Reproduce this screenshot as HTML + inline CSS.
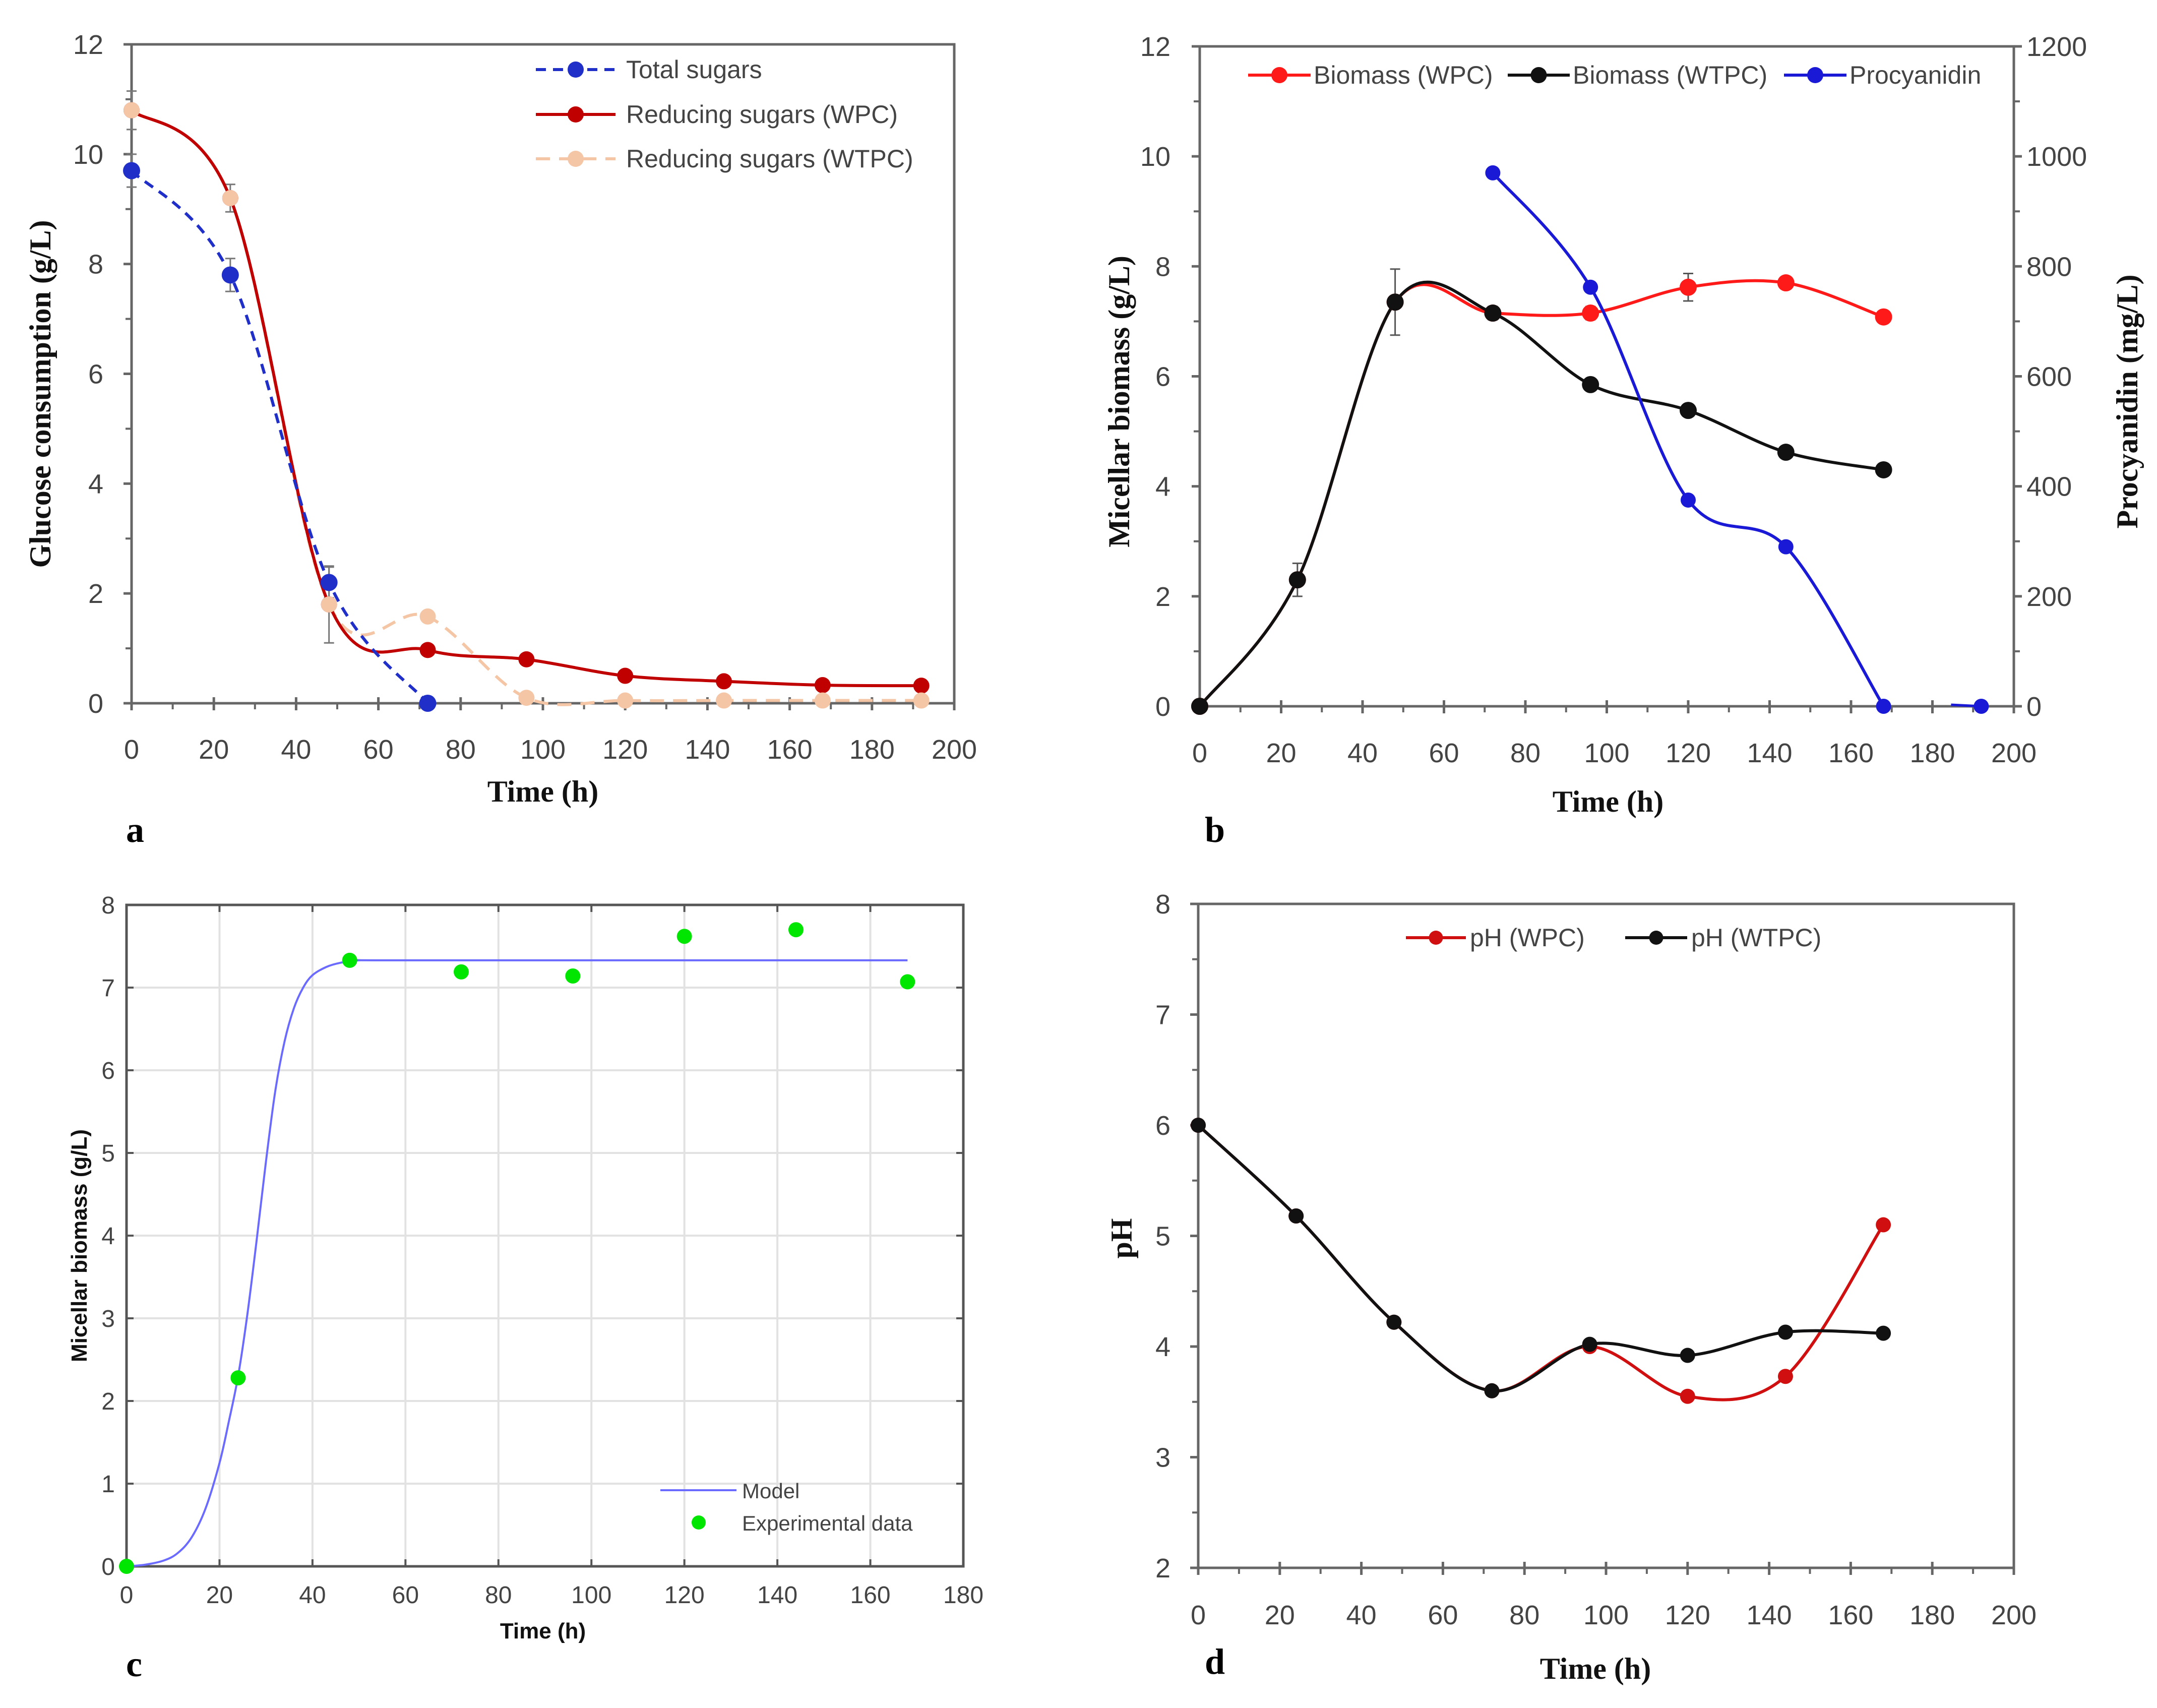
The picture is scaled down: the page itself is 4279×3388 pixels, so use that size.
<!DOCTYPE html>
<html><head><meta charset="utf-8">
<style>
html,body{margin:0;padding:0;background:#fff;}
svg{display:block;}
.tk{font-family:"Liberation Sans",sans-serif;font-size:54px;fill:#444;}
.tt{font-family:"Liberation Serif",serif;font-size:60px;font-weight:bold;fill:#111;}
.lg{font-family:"Liberation Sans",sans-serif;font-size:50px;fill:#444;}
.pl{font-family:"Liberation Serif",serif;font-size:72px;font-weight:bold;fill:#000;}
.ctk{font-family:"Liberation Sans",sans-serif;font-size:48px;fill:#444;}
.ctt{font-family:"Liberation Sans",sans-serif;font-size:44px;font-weight:bold;fill:#111;}
</style></head>
<body>
<svg id="fig" xmlns="http://www.w3.org/2000/svg" width="4279" height="3388" viewBox="0 0 4279 3388"></svg>
<script>
// ---------- Panel a data ----------
const aTotalX=[0,24,48,72];
const aTotalY=[9.7,7.8,2.2,0];
const aTotalErr=[0.3,0.3,0.28,0];
const aWpcX=[0,24,48,72,96,120,144,168,192];
const aWpcY=[10.8,9.2,1.8,0.97,0.8,0.5,0.4,0.33,0.32];
const aWtpcX=[0,24,48,72,96,120,144,168,192];
const aWtpcY=[10.8,9.2,1.8,1.58,0.1,0.05,0.05,0.05,0.05];
const aWtpcErr=[0.35,0.25,0.7,0,0,0,0,0,0];
const aXTicks=[0,20,40,60,80,100,120,140,160,180,200];
const aYTicks=[0,2,4,6,8,10,12];
// ---------- Panel b data ----------
const bX=[0,24,48,72,96,120,144,168];
const bWpc=[0,2.3,7.35,7.15,7.15,7.62,7.7,7.08];
const bWpcErr=[0,0.3,0.6,0.12,0.12,0.25,0.08,0];
const bWtpc=[0,2.3,7.35,7.15,5.85,5.38,4.62,4.3];
const bProX=[72,96,120,144,168];
const bPro=[970,762,375,290,0];
const bProLastX=[192];
const bProLast=[0];
const bXTicks=[0,20,40,60,80,100,120,140,160,180,200];
const bYTicks=[0,2,4,6,8,10,12];
const bY2Ticks=[0,200,400,600,800,1000,1200];
// ---------- Panel c data ----------
const cModelX=[0,4,8,11,14,17,20,22,24,26,28,30,32,34,36,38,40,43,46,50,60,168];
const cModelY=[0,0.02,0.07,0.16,0.35,0.7,1.25,1.75,2.3,3.05,3.95,4.9,5.75,6.35,6.75,7.0,7.15,7.25,7.3,7.33,7.33,7.33];
const cExpX=[0,24,48,72,96,120,144,168];
const cExpY=[0,2.28,7.33,7.19,7.14,7.62,7.7,7.07];
const cXTicks=[0,20,40,60,80,100,120,140,160,180];
const cYTicks=[0,1,2,3,4,5,6,7,8];
// ---------- Panel d data ----------
const dX=[0,24,48,72,96,120,144,168];
const dWpc=[6,5.18,4.22,3.6,4.0,3.55,3.73,5.1];
const dWtpc=[6,5.18,4.22,3.6,4.02,3.92,4.13,4.12];
const dXTicks=[0,20,40,60,80,100,120,140,160,180,200];
const dYTicks=[2,3,4,5,6,7,8];

const NS="http://www.w3.org/2000/svg";
const svg=document.getElementById('fig');
function el(tag,attrs,parent,text){
  const e=document.createElementNS(NS,tag);
  for(const k in attrs)e.setAttribute(k,attrs[k]);
  if(text!==undefined)e.textContent=text;
  (parent||svg).appendChild(e);return e;
}
function lin(d0,d1,r0,r1){return v=>r0+(v-d0)*(r1-r0)/(d1-d0);}
function smooth(pts){
  if(pts.length<2)return '';
  let d='M'+pts[0][0]+','+pts[0][1];
  for(let i=0;i<pts.length-1;i++){
    const p0=pts[Math.max(0,i-1)],p1=pts[i],p2=pts[i+1],p3=pts[Math.min(pts.length-1,i+2)];
    const c1x=p1[0]+(p2[0]-p0[0])/6,c1y=p1[1]+(p2[1]-p0[1])/6;
    const c2x=p2[0]-(p3[0]-p1[0])/6,c2y=p2[1]-(p3[1]-p1[1])/6;
    d+=' C'+c1x+','+c1y+' '+c2x+','+c2y+' '+p2[0]+','+p2[1];
  }
  return d;
}
function axesBox(g,x0,x1,y0,y1,xt,yt,sx,sy,opts){
  const col='#666';
  const box=el('rect',{x:x0,y:y1,width:x1-x0,height:y0-y1,fill:'none',stroke:col,'stroke-width':5},g);
  
  
  const xg=el('g',{},g);
  
  
  for(let i=0;i<xt.length;i++){
    const x=sx(xt[i]);
    el('line',{x1:x,x2:x,y1:y0-12,y2:y0+14,stroke:col,'stroke-width':5},xg);
    if(i<xt.length-1){const xm=sx((xt[i]+xt[i+1])/2);el('line',{x1:xm,x2:xm,y1:y0,y2:y0+12,stroke:col,'stroke-width':4},xg);}
    const t=el('text',{x:x,y:opts.xly,'text-anchor':'middle',class:'tk'},xg,xt[i]);
    
    
  }
  const yg=el('g',{},g);
  
  
  for(let i=0;i<yt.length;i++){
    const y=sy(yt[i]);
    el('line',{x1:x0-16,x2:x0,y1:y,y2:y,stroke:col,'stroke-width':5},yg);
    if(i<yt.length-1){const ym=sy((yt[i]+yt[i+1])/2);el('line',{x1:x0-12,x2:x0,y1:ym,y2:ym,stroke:col,'stroke-width':4},yg);}
    const t=el('text',{x:opts.ylx,y:y+19,'text-anchor':'end',class:'tk'},yg,yt[i]);
    
    
  }
}
function errBars(g,xs,ys,es,sx,sy,col){
  for(let i=0;i<xs.length;i++){if(!es[i])continue;
    const x=sx(xs[i]),ya=sy(ys[i]+es[i]),yb=sy(ys[i]-es[i]);
    el('path',{d:`M${x},${ya} L${x},${yb} M${x-10},${ya} L${x+10},${ya} M${x-10},${yb} L${x+10},${yb}`,stroke:col,'stroke-width':3,fill:'none'},g);
  }
}
function dots(g,xs,ys,sx,sy,r,col,name){
  for(let i=0;i<xs.length;i++){
    const c=el('circle',{cx:sx(xs[i]),cy:sy(ys[i]),r:r,fill:col},g);
    
    
  }
}
function pts(xs,ys,sx,sy){return xs.map((x,i)=>[sx(x),sy(ys[i])]);}

// ================= Panel a =================
(function(){
  const g=el('g',{});
  
  
  const x0=261,x1=1893,y0=1395,y1=88;
  const sx=lin(0,200,x0,x1),sy=lin(0,12,y0,y1);
  axesBox(g,x0,x1,y0,y1,aXTicks,aYTicks,sx,sy,{xly:1505,ylx:205});
  const yt=el('text',{x:0,y:0,class:'tt',transform:`translate(100,${(y0+y1)/2+40}) rotate(-90)`,'text-anchor':'middle'},g,'Glucose consumption  (g/L)');
  
  const xt=el('text',{x:1077,y:1590,class:'tt','text-anchor':'middle'},g,'Time (h)');
  
  errBars(g,aWtpcX,aWtpcY,aWtpcErr,sx,sy,'#777');
  errBars(g,aTotalX,aTotalY,aTotalErr,sx,sy,'#777');
  const lw=el('path',{d:smooth(pts(aWtpcX,aWtpcY,sx,sy)),fill:'none',stroke:'#f5c6a5','stroke-width':6,'stroke-dasharray':'28,18'},g);
  
  const lr=el('path',{d:smooth(pts(aWpcX,aWpcY,sx,sy)),fill:'none',stroke:'#c00000','stroke-width':6},g);
  
  const lt=el('path',{d:smooth(pts(aTotalX,aTotalY,sx,sy)),fill:'none',stroke:'#1f2fc8','stroke-width':6,'stroke-dasharray':'20,14'},g);
  
  dots(g,aWpcX,aWpcY,sx,sy,16,'#c00000','wpc-point');
  dots(g,aTotalX,aTotalY,sx,sy,17,'#1f2fc8','total-sugars-point');
  dots(g,aWtpcX,aWtpcY,sx,sy,16,'#f5c6a5','wtpc-point');
  const lg=el('g',{},g);
  
  const rows=[[138,'#1f2fc8','20,14','Total sugars'],[227,'#c00000','','Reducing sugars  (WPC)'],[315,'#f5c6a5','28,18','Reducing sugars  (WTPC)']];
  rows.forEach(r=>{
    el('line',{x1:1063,x2:1221,y1:r[0],y2:r[0],stroke:r[1],'stroke-width':6,'stroke-dasharray':r[2]||'none'},lg);
    el('circle',{cx:1142,cy:r[0],r:16,fill:r[1]},lg);
    const t=el('text',{x:1242,y:r[0]+17,class:'lg'},lg,r[3]);
    
  });
  const p=el('text',{x:250,y:1670,class:'pl'},g,'a');
  
})();

// ================= Panel b =================
(function(){
  const g=el('g',{});
  
  
  const x0=2380,x1=3995,y0=1401,y1=92;
  const sx=lin(0,200,x0,x1),sy=lin(0,12,y0,y1),sy2=lin(0,1200,y0,y1);
  axesBox(g,x0,x1,y0,y1,bXTicks,bYTicks,sx,sy,{xly:1512,ylx:2322});
  const rg=el('g',{},g);
  
  for(let i=0;i<bY2Ticks.length;i++){
    const y=sy2(bY2Ticks[i]);
    el('line',{x1:x1,x2:x1+16,y1:y,y2:y,stroke:'#666','stroke-width':5},rg);
    if(i<bY2Ticks.length-1){const ym=sy2((bY2Ticks[i]+bY2Ticks[i+1])/2);el('line',{x1:x1,x2:x1+12,y1:ym,y2:ym,stroke:'#666','stroke-width':4},rg);}
    const t=el('text',{x:x1+25,y:y+19,class:'tk'},rg,bY2Ticks[i]);
    
  }
  const yt=el('text',{x:0,y:0,class:'tt',transform:`translate(2240,${(y0+y1)/2+50}) rotate(-90)`,'text-anchor':'middle'},g,'Micellar biomass (g/L)');
  
  const yt2=el('text',{x:0,y:0,class:'tt',transform:`translate(4240,${(y0+y1)/2+50}) rotate(-90)`,'text-anchor':'middle'},g,'Procyanidin (mg/L)');
  
  const xt=el('text',{x:3190,y:1610,class:'tt','text-anchor':'middle'},g,'Time (h)');
  
  errBars(g,bX,bWpc,bWpcErr,sx,sy,'#555');
  const l1=el('path',{d:smooth(pts(bX,bWpc,sx,sy)),fill:'none',stroke:'#ff1a1a','stroke-width':6},g);
  
  const l2=el('path',{d:smooth(pts(bX,bWtpc,sx,sy)),fill:'none',stroke:'#111','stroke-width':6},g);
  
  const l3=el('path',{d:smooth(pts(bProX,bPro,sx,sy2)),fill:'none',stroke:'#1a1ad6','stroke-width':6},g);
  
  const lx=sx(bProLastX[0]),ly=sy2(bProLast[0]);
  el('line',{x1:lx-60,x2:lx,y1:ly-3,y2:ly,stroke:'#1a1ad6','stroke-width':5},g);
  dots(g,bX,bWpc,sx,sy,17,'#ff1a1a','biomass-wpc-point');
  dots(g,bX,bWtpc,sx,sy,17,'#111','biomass-wtpc-point');
  dots(g,bProX,bPro,sx,sy2,15,'#1a1ad6','procyanidin-point');
  dots(g,bProLastX,bProLast,sx,sy2,15,'#1a1ad6','procyanidin-point');
  const lg=el('g',{},g);
  
  [[2476,2600,'#ff1a1a','Biomass (WPC)'],[2991,3114,'#111','Biomass (WTPC)'],[3539,3663,'#1a1ad6','Procyanidin']].forEach(r=>{
    el('line',{x1:r[0],x2:r[1],y1:149,y2:149,stroke:r[2],'stroke-width':6},lg);
    el('circle',{cx:(r[0]+r[1])/2,cy:149,r:16,fill:r[2]},lg);
    const t=el('text',{x:r[1]+6,y:166,class:'lg'},lg,r[3]);
    
  });
  const p=el('text',{x:2390,y:1670,class:'pl'},g,'b');
  
})();

// ================= Panel c =================
(function(){
  const g=el('g',{});
  
  
  const x0=251,x1=1911,y0=3107,y1=1795;
  const sx=lin(0,180,x0,x1),sy=lin(0,8,y0,y1);
  const grid=el('g',{},g);
  
  cXTicks.forEach(v=>el('line',{x1:sx(v),x2:sx(v),y1:y0,y2:y1,stroke:'#e2e2e2','stroke-width':4},grid));
  cYTicks.forEach(v=>el('line',{x1:x0,x2:x1,y1:sy(v),y2:sy(v),stroke:'#e2e2e2','stroke-width':4},grid));
  const box=el('rect',{x:x0,y:y1,width:x1-x0,height:y0-y1,fill:'none',stroke:'#555','stroke-width':5},g);
  
  cXTicks.forEach(v=>{
    el('line',{x1:sx(v),x2:sx(v),y1:y0,y2:y0-14,stroke:'#555','stroke-width':4},g);
    el('line',{x1:sx(v),x2:sx(v),y1:y1,y2:y1+14,stroke:'#555','stroke-width':4},g);
    const t=el('text',{x:sx(v),y:3180,'text-anchor':'middle',class:'ctk'},g,v);
    
  });
  cYTicks.forEach(v=>{
    el('line',{x1:x0,x2:x0+14,y1:sy(v),y2:sy(v),stroke:'#555','stroke-width':4},g);
    el('line',{x1:x1,x2:x1-14,y1:sy(v),y2:sy(v),stroke:'#555','stroke-width':4},g);
    const t=el('text',{x:228,y:sy(v)+17,'text-anchor':'end',class:'ctk'},g,v);
    
  });
  const yt=el('text',{x:0,y:0,class:'ctt',transform:`translate(172,${(y0+y1)/2+20}) rotate(-90)`,'text-anchor':'middle'},g,'Micellar biomass (g/L)');
  
  const xt=el('text',{x:1077,y:3250,class:'ctt','text-anchor':'middle'},g,'Time (h)');
  
  const m=el('path',{d:smooth(pts(cModelX,cModelY,sx,sy)),fill:'none',stroke:'#6a6aff','stroke-width':4},g);
  
  dots(g,cExpX,cExpY,sx,sy,15,'#00e600','experimental-point');
  const lg=el('g',{},g);
  
  el('line',{x1:1310,x2:1461,y1:2956,y2:2956,stroke:'#6a6aff','stroke-width':4},lg);
  const t1=el('text',{x:1472,y:2972,class:'ctk',style:'font-size:42px'},lg,'Model');
  
  el('circle',{cx:1386,cy:3020,r:14,fill:'#00e600'},lg);
  const t2=el('text',{x:1472,y:3036,class:'ctk',style:'font-size:42px'},lg,'Experimental data');
  
  const p=el('text',{x:250,y:3325,class:'pl'},g,'c');
  
})();

// ================= Panel d =================
(function(){
  const g=el('g',{});
  
  
  const x0=2377,x1=3995,y0=3110,y1=1793;
  const sx=lin(0,200,x0,x1),sy=lin(2,8,y0,y1);
  axesBox(g,x0,x1,y0,y1,dXTicks,dYTicks,sx,sy,{xly:3222,ylx:2322});
  const yt=el('text',{x:0,y:0,class:'tt',transform:`translate(2245,${sy(5)+5}) rotate(-90)`,'text-anchor':'middle'},g,'pH');
  
  const xt=el('text',{x:3165,y:3330,class:'tt','text-anchor':'middle'},g,'Time (h)');
  
  const l1=el('path',{d:smooth(pts(dX,dWpc,sx,sy)),fill:'none',stroke:'#d01010','stroke-width':6},g);
  
  const l2=el('path',{d:smooth(pts(dX,dWtpc,sx,sy)),fill:'none',stroke:'#111','stroke-width':6},g);
  
  dots(g,dX,dWpc,sx,sy,15,'#d01010','ph-wpc-point');
  dots(g,dX,dWtpc,sx,sy,15,'#111','ph-wtpc-point');
  const lg=el('g',{},g);
  
  [[2789,2908,'#d01010','pH (WPC)'],[3224,3347,'#111','pH (WTPC)']].forEach(r=>{
    el('line',{x1:r[0],x2:r[1],y1:1860,y2:1860,stroke:r[2],'stroke-width':6},lg);
    el('circle',{cx:(r[0]+r[1])/2,cy:1860,r:14,fill:r[2]},lg);
    const t=el('text',{x:r[1]+8,y:1877,class:'lg'},lg,r[3]);
    
  });
  const p=el('text',{x:2390,y:3320,class:'pl'},g,'d');
  
})();
</script>
</body></html>
